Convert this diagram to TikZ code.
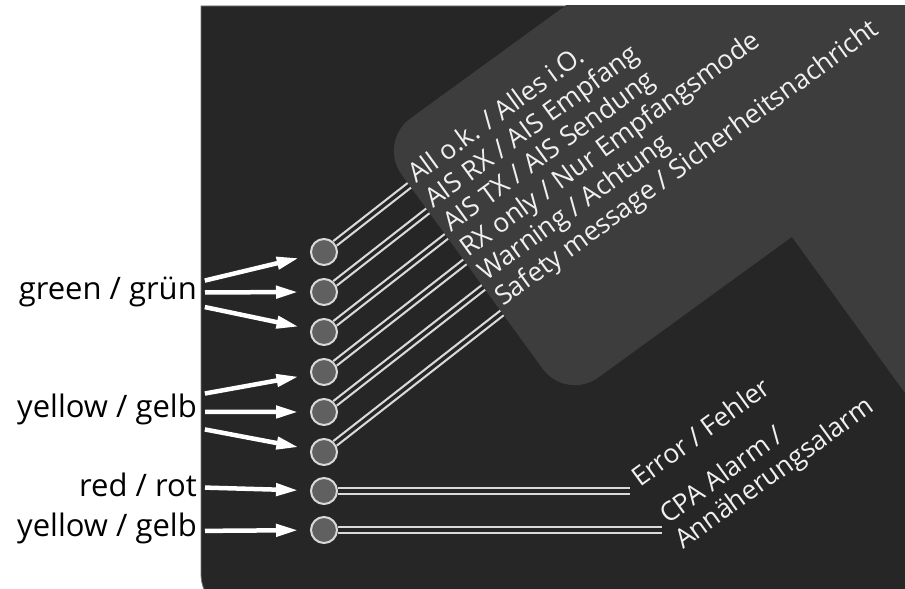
\documentclass[tikz,border=0pt]{standalone}
\usepackage{fontspec}
\setmainfont{Open Sans}
\usepackage{tikz}
\usetikzlibrary{shapes,arrows.meta}
\usetikzlibrary{calc}
\definecolor{panel}{RGB}{38,38,38}
\definecolor{plate}{RGB}{61,61,61}
\definecolor{ledfill}{RGB}{96,96,96}
\definecolor{ledring}{RGB}{218,218,218}
\tikzstyle{led} = [circle, draw=ledring, fill=ledfill, line width=2pt,
    minimum size=26pt, inner sep=0pt]
\tikzstyle{lead} = [draw=ledring, line width=2.2pt, double=panel, double distance=3.4pt]
\tikzstyle{colour} = [anchor=base east, inner sep=0pt, font=\fontsize{31}{36}\selectfont]
\tikzstyle{state} = [anchor=base west, inner sep=0pt, rotate=36, text=white!94!black,
    font=\fontsize{26.5}{30}\selectfont]
\tikzstyle{line} = [draw=white, line width=4.5pt, -{Triangle[length=22pt,width=12pt]},
    shorten <=8pt, shorten >=12pt]

\begin{document}
\begin{tikzpicture}[x=1pt, y=1pt]
    \useasboundingbox (0,0) rectangle (905,589);
    \clip (0,0) rectangle (905,589);
    % Panel
    \fill[panel, draw=black!55, line width=0.8pt] (201,583) [rounded corners=40pt] -- (201,-25)
        -- (960,-25) [sharp corners] -- (960,583) -- cycle;
    % Place LEDs
    \node [led] (led1) at (324,337) {};
    \node [led] (led2) at (324,297) {};
    \node [led] (led3) at (324,257) {};
    \node [led] (led4) at (324,217) {};
    \node [led] (led5) at (324,177) {};
    \node [led] (led6) at (324,137) {};
    \node [led] (led7) at (324,98) {};
    \node [led] (led8) at (324,59) {};
    % Draw leads
    \path (led1) ++(38:300) coordinate (end1);
    \path (led2) ++(38:300) coordinate (end2);
    \path (led3) ++(38:300) coordinate (end3);
    \path (led4) ++(38:300) coordinate (end4);
    \path (led5) ++(38:300) coordinate (end5);
    \path (led6) ++(38:300) coordinate (end6);
    \coordinate (end7) at (630,98);
    \coordinate (end8) at (662,59);
    \draw [lead] (led1) -- (end1);
    \draw [lead] (led2) -- (end2);
    \draw [lead] (led3) -- (end3);
    \draw [lead] (led4) -- (end4);
    \draw [lead] (led5) -- (end5);
    \draw [lead] (led6) -- (end6);
    \draw [lead] (led7) -- (end7);
    \draw [lead] (led8) -- (end8);
    % Plate
    \begin{scope}
    \clip (201,583) rectangle (960,-25);
    \fill[plate, rounded corners=40pt] (726,700) -- (378,447) -- (566,188) -- (1100,576)
        -- (1100,700) -- cycle;
    \fill[plate] (792,352) -- (968,109) -- (1100,109) -- (1100,700) -- (540,700) -- cycle;
    \end{scope}
    % Plate texts
    \node [state] (ok) at (416,405) {All o.k. / Alles i.O.};
    \node [state] (rx) at (433,380) {AIS RX / AIS Empfang};
    \node [state] (tx) at (451,356) {AIS TX / AIS Sendung};
    \node [state] (rxonly) at (468,331) {RX only / Nur Empfangsmode};
    \node [state] (warn) at (486,307) {Warning / Achtung};
    \node [state] (safety) at (503,282) {Safety message / Sicherheitsnachricht};
    \node [state] (error) at (640,101) {Error / Fehler};
    \node [state] (cpa) at (668,64) {CPA Alarm /};
    \node [state] (cpade) at (683,39) {Annäherungsalarm};
    % Colour labels
    \node [colour] (green) at (197,289) {green / grün};
    \node [colour] (yellow) at (197,171) {yellow / gelb};
    \node [colour] (red) at (197,92) {red / rot};
    \node [colour] (yellowb) at (197,52) {yellow / gelb};
    % Draw arrows
    \path [line] ([yshift=10pt]green.east) -- (led1);
    \path [line] ([yshift=0pt]green.east) -- (led2);
    \path [line] ([yshift=-13pt]green.east) -- (led3);
    \path [line] ([yshift=15pt]yellow.east) -- (led4);
    \path [line] ([yshift=-2pt]yellow.east) -- (led5);
    \path [line] ([yshift=-18pt]yellow.east) -- (led6);
    \path [line] ([yshift=-2pt]red.east) -- (led7);
    \path [line] ([yshift=-2pt]yellowb.east) -- (led8);
\end{tikzpicture}
\end{document}
